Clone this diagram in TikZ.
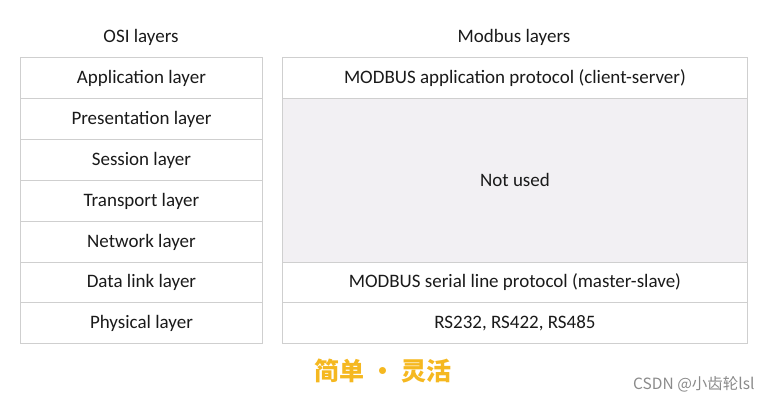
\documentclass[tikz,border=0pt]{standalone}
\usepackage{fontspec}
\setmainfont{Carlito}
\newfontfamily\cjk{Noto Sans CJK SC}
\definecolor{gridc}{HTML}{CFCFCF}
\definecolor{unusedc}{HTML}{F2F0F3}
\definecolor{txtc}{HTML}{1A1A1A}
\definecolor{goldc}{HTML}{F5B820}
\definecolor{wmc}{HTML}{8A8A8A}
\begin{document}
\begin{tikzpicture}[x=1pt,y=-1pt,
  cell/.style={draw=gridc,line width=0.9pt,fill=white,text=txtc,font=\fontsize{19}{22}\selectfont,inner sep=0pt,anchor=north west},
  lcell/.style={cell,minimum width=242pt,minimum height=41pt},
  rcell/.style={cell,minimum width=465pt,minimum height=41pt},
  head/.style={text=txtc,font=\fontsize{19}{22}\selectfont}]
\useasboundingbox (0,0) rectangle (771,402);
\node[head] (h1) at (141,37) {OSI layers};
\node[head] (h2) at (514,37) {Modbus layers};
\node[lcell] (l1) at (20,57) {Application layer};
\node[lcell] (l2) at (20,98) {Presentation layer};
\node[lcell] (l3) at (20,139) {Session layer};
\node[lcell] (l4) at (20,180) {Transport layer};
\node[lcell] (l5) at (20,221) {Network layer};
\node[lcell,minimum height=40pt] (l6) at (20,262) {Data link layer};
\node[lcell] (l7) at (20,302) {Physical layer};
\node[rcell] (r1) at (282,57) {MODBUS application protocol (client-server)};
\node[rcell,fill=unusedc,minimum height=164pt] (r2) at (282,98) {Not used};
\node[rcell,minimum height=40pt] (r3) at (282,262) {MODBUS serial line protocol (master-slave)};
\node[rcell] (r4) at (282,302) {RS232, RS422, RS485};
\node[text=goldc,font=\cjk\bfseries\fontsize{25}{28}\selectfont] (slogan) at (383,371) {简单 · 灵活};
\node[text=wmc,font=\cjk\fontsize{15.5}{18}\selectfont,anchor=east] (wm) at (758,384) {CSDN @小齿轮lsl};
\end{tikzpicture}
\end{document}
